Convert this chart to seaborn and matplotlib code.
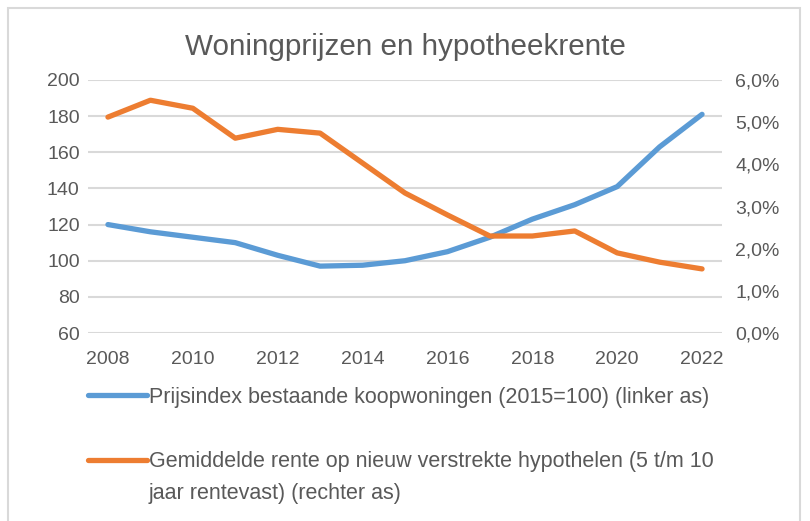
import matplotlib
matplotlib.use("Agg")
import matplotlib.pyplot as plt
from matplotlib.patches import Rectangle
from matplotlib.ticker import FuncFormatter, FixedLocator
import seaborn as sns
import pandas as pd

years = list(range(2008, 2023))
prijsindex = [120, 116, 113, 110, 103, 97, 97.5, 100, 105, 113, 123, 131, 141, 163, 181]
rente = [5.12, 5.52, 5.33, 4.62, 4.83, 4.74, 4.03, 3.32, 2.80, 2.30, 2.30, 2.42, 1.90, 1.68, 1.52]

title = "Woningprijzen en hypotheekrente"
label_blue = "Prijsindex bestaande koopwoningen (2015=100) (linker as)"
label_orange_1 = "Gemiddelde rente op nieuw verstrekte hypothelen (5 t/m 10"
label_orange_2 = "jaar rentevast) (rechter as)"
xticks = list(range(2008, 2023, 2))
left_ticks = list(range(60, 201, 20))
right_ticks = [0, 1, 2, 3, 4, 5, 6]

sns.set_theme(style="white")
plt.rcParams['font.family'] = ['Liberation Sans', 'DejaVu Sans']

BLUE = "#5B9BD5"
ORANGE = "#ED7D31"
TXT = "#595959"
GRID = "#D9D9D9"

df = pd.DataFrame({"jaar": years, "prijsindex": prijsindex, "rente": rente})

fig = plt.figure(figsize=(8.1, 5.21), dpi=100)
ax = fig.add_axes([88/810, 1-333/521, (722-88)/810, (333-80)/521])
ax2 = ax.twinx()

sns.lineplot(data=df, x="jaar", y="prijsindex", ax=ax, color=BLUE, linewidth=3.8,
             label=label_blue, legend=False)
sns.lineplot(data=df, x="jaar", y="rente", ax=ax2, color=ORANGE, linewidth=3.8,
             label=label_orange_1, legend=False)

ax.set_xlim(2007.53, 2022.47)
ax.set_ylim(60, 200)
ax2.set_ylim(0, 6)
ax.yaxis.set_major_locator(FixedLocator(left_ticks))
ax2.yaxis.set_major_locator(FixedLocator(right_ticks))
ax.xaxis.set_major_locator(FixedLocator(xticks))
ax2.yaxis.set_major_formatter(FuncFormatter(lambda v, p: f"{v:.1f}".replace(".", ",") + "%"))

ax.grid(axis="y", color=GRID, linewidth=1.5)
ax.set_axisbelow(True)
for a in (ax, ax2):
    for s in a.spines.values():
        s.set_visible(False)
    a.set_xlabel("")
    a.set_ylabel("")
ax.tick_params(axis="both", length=0, labelsize=14, labelcolor=TXT)
ax.tick_params(axis="y", pad=6)
ax.tick_params(axis="x", pad=13)
ax2.tick_params(axis="y", length=0, labelsize=14, labelcolor=TXT, pad=9.5)
ax2.set_zorder(ax.get_zorder() + 1)
ax2.patch.set_visible(False)

fig.text(0.5, 1-47/521, title, ha="center", va="center", fontsize=21.3, color=TXT)

h1, l1 = ax.get_legend_handles_labels()
h2, l2 = ax2.get_legend_handles_labels()
leg = fig.legend(h1 + h2, l1 + l2, loc="upper left", bbox_to_anchor=(88/810, 1-387/521),
                 frameon=False, fontsize=15.5, labelcolor=TXT, handlelength=2.75,
                 handletextpad=0.1, labelspacing=2.0, borderpad=0, borderaxespad=0)
fig.text(149/810, 1-493/521, label_orange_2, ha="left", va="center", fontsize=15.5, color=TXT)

fig.patches.append(Rectangle((8/810, -0.01), (800-8)/810, 1-8/521+0.01, transform=fig.transFigure,
                             fill=False, edgecolor=GRID, linewidth=1.5))

fig.savefig("out.png", dpi=100)
